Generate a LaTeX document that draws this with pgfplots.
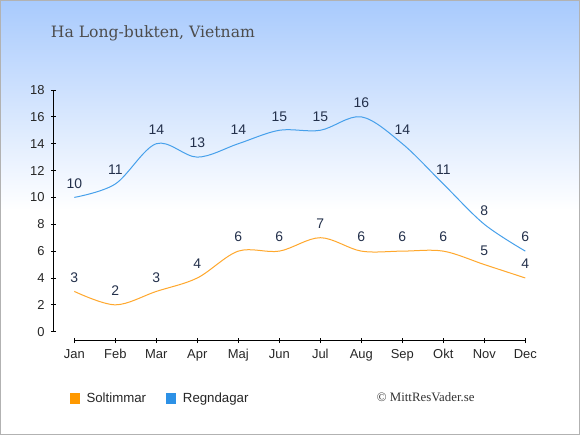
\documentclass[border=0pt]{standalone}
\usepackage{pgfplots}
\pgfplotsset{compat=1.18}
\usepackage{fontspec}
\setmainfont{Liberation Sans}
\newfontfamily\titlefont{DejaVu Serif}
\newfontfamily\copyfont{Liberation Serif}
\definecolor{sunC}{RGB}{255,168,45}
\definecolor{rainC}{RGB}{70,160,235}
\definecolor{sunL}{RGB}{255,153,0}
\definecolor{rainL}{RGB}{45,145,230}
\definecolor{lblC}{RGB}{35,48,75}
\definecolor{bgTop}{RGB}{168,202,253}
\begin{document}
\begin{tikzpicture}[x=1bp,y=1bp]
\useasboundingbox (0,0) rectangle (580,435);
\fill[white] (0,0) rectangle (580,435);
\shade[top color=bgTop, bottom color=white] (0,225) rectangle (580,435);
\draw[black!30, line width=1bp] (0.5,0.5) rectangle (579.5,434.5);
\node[anchor=base west, inner sep=0pt, font=\titlefont\fontsize{15.7}{18}\selectfont, text=black!70] at (50.7,397.5) {Ha Long-bukten, Vietnam};
\begin{axis}[
  at={(53.8bp,94.3bp)}, anchor=south west, scale only axis,
  width=471.5bp, height=250.7bp,
  xmin=-0.5, xmax=11, ymin=-0.67, ymax=18,
  axis x line*=bottom, axis y line*=left, axis line style={draw=none},
  xtick={0,...,11},
  xticklabels={Jan,Feb,Mar,Apr,Maj,Jun,Jul,Aug,Sep,Okt,Nov,Dec},
  ytick={0,2,...,18},
  tick align=center, major tick length=5bp,
  tick style={black, line width=0.8bp},
  ticklabel style={font=\fontsize{13}{15}\selectfont, text=black!85, inner sep=0pt},
  xticklabel style={anchor=north, yshift=-6bp},
  yticklabel style={anchor=east, xshift=-6.5bp},
  /pgf/number format/assume math mode=true,
  clip=false,
  nodes near coords,
  every node near coord/.append style={anchor=south, inner sep=0pt, yshift=8.5bp,
    font=\fontsize{14}{16}\selectfont, text=lblC},
  legend columns=2,
  legend cell align=left,
  legend style={at={(0.0329,-0.2298)}, anchor=west, draw=none, fill=none,
    inner sep=0pt, font=\fontsize{13.3}{15}\selectfont, text=black!85,
    nodes={inner sep=0pt},
    /tikz/every even column/.append style={column sep=19.8bp}},
]
\addplot[sunC, line width=1bp, smooth, tension=0.55,
  legend image code/.code={\fill[sunL] (0bp,-5bp) rectangle (9.3bp,5bp); \path (16bp,0bp);}]
  coordinates {(0,3) (1,2) (2,3) (3,4) (4,6) (5,6) (6,7) (7,6) (8,6) (9,6) (10,5) (11,4)};
\addlegendentry{Soltimmar}
\addplot[rainC, line width=1bp, smooth, tension=0.55,
  legend image code/.code={\fill[rainL] (0bp,-5bp) rectangle (9.3bp,5bp); \path (16bp,0bp);}]
  coordinates {(0,10) (1,11) (2,14) (3,13) (4,14) (5,15) (6,15) (7,16) (8,14) (9,11) (10,8) (11,6)};
\addlegendentry{Regndagar}
\draw[black, line width=0.8bp] (axis cs:-0.5,0) -- (axis cs:-0.5,18);
\draw[black, line width=0.8bp] (axis cs:0,-0.67) -- (axis cs:11,-0.67);
\end{axis}
\node[anchor=west, inner sep=0pt, font=\copyfont\fontsize{12.9}{15}\selectfont, text=black!80] at (376.7,37.7) {© MittResVader.se};
\end{tikzpicture}
\end{document}
